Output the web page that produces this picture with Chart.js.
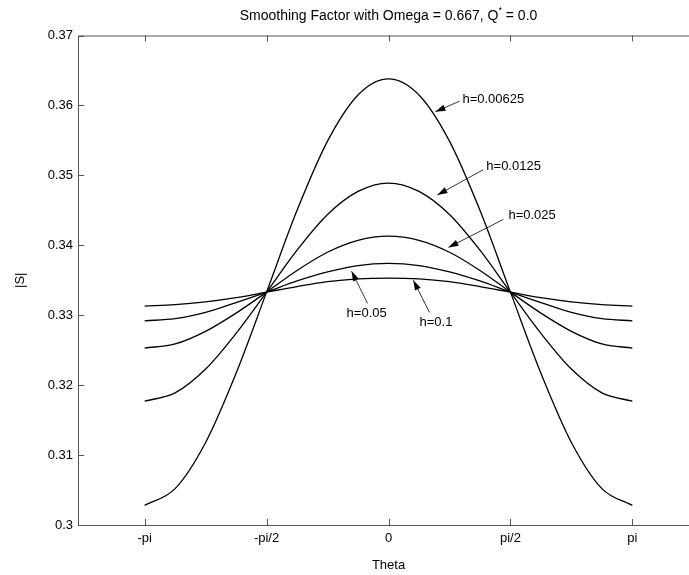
<!DOCTYPE html>
<html>
<head>
<meta charset="utf-8">
<script src="https://cdn.jsdelivr.net/npm/chart.js@4.4.0/dist/chart.umd.min.js"></script>
<style>
    html, body { margin: 0; padding: 0; background: #fff; overflow: hidden; }
    #wrap { position: absolute; left: 0; top: 0; width: 710px; height: 575px; }
</style>
</head>
<body>
<div id="wrap"><canvas id="smoothChart" width="710" height="575"></canvas></div>
<script>
// theta samples (radians) and |S| for each h
const theta = [-3.1416, -2.7489, -2.3562, -1.9635, -1.5708, -1.1781, -0.7854, -0.3927, 0,
    0.3927, 0.7854, 1.1781, 1.5708, 1.9635, 2.3562, 2.7489, 3.1416];
const sH00625 = [0.3028, 0.3052, 0.3118, 0.3217, 0.3333, 0.3450, 0.3549, 0.3615, 0.3638,
    0.3615, 0.3549, 0.3450, 0.3333, 0.3217, 0.3118, 0.3052, 0.3028];
const sH0125 = [0.3177, 0.3189, 0.3223, 0.3274, 0.3333, 0.3393, 0.3444, 0.3477, 0.3489,
    0.3477, 0.3444, 0.3393, 0.3333, 0.3274, 0.3223, 0.3189, 0.3177];
const sH025 = [0.3253, 0.3259, 0.3277, 0.3303, 0.3333, 0.3364, 0.3390, 0.3407, 0.3413,
    0.3407, 0.3390, 0.3364, 0.3333, 0.3303, 0.3277, 0.3259, 0.3253];
const sH05 = [0.3292, 0.3295, 0.3304, 0.3318, 0.3333, 0.3349, 0.3362, 0.3371, 0.3374,
    0.3371, 0.3362, 0.3349, 0.3333, 0.3318, 0.3304, 0.3295, 0.3292];
const sH1 = [0.3313, 0.3315, 0.3319, 0.3325, 0.3333, 0.3341, 0.3348, 0.3352, 0.3353,
    0.3352, 0.3348, 0.3341, 0.3333, 0.3325, 0.3319, 0.3315, 0.3313];

const xTickValues = [-3.1416, -1.5708, 0, 1.5708, 3.1416];
const xTickLabels = ['-pi', '-pi/2', '0', 'pi/2', 'pi'];
const yTickValues = [0.30, 0.31, 0.32, 0.33, 0.34, 0.35, 0.36, 0.37];
const yTickLabels = ['0.3', '0.31', '0.32', '0.33', '0.34', '0.35', '0.36', '0.37'];

// annotations (data units): label, text anchor, arrow tail, arrow head
const annotLabels = ['h=0.00625', 'h=0.0125', 'h=0.025', 'h=0.05', 'h=0.1'];
const annotText = [[0.952, 0.3608], [1.26, 0.3513], [1.545, 0.3442], [-0.54, 0.3303], [0.40, 0.3289]];
const annotTail = [[0.914, 0.3606], [1.22, 0.3508], [1.48, 0.3437], [-0.27, 0.3317], [0.528, 0.3304]];
const annotHead = [[0.605, 0.3591], [0.63, 0.3472], [0.772, 0.3397], [-0.476, 0.3363], [0.32, 0.3350]];

const FONT = 'Arial, "Liberation Sans", Helvetica, sans-serif';
const seriesList = [sH00625, sH0125, sH025, sH05, sH1];

const decorPlugin = {
    id: 'matlabDecor',
    afterDatasetsDraw(chart) {
        const ctx = chart.ctx;
        const area = chart.chartArea;
        const xs = chart.scales.x, ys = chart.scales.y;
        ctx.save();

        // box and inward ticks
        ctx.strokeStyle = '#555';
        ctx.lineWidth = 1;
        ctx.strokeRect(area.left + 0.5, area.top + 0.5, area.right - area.left, area.bottom - area.top);
        ctx.beginPath();
        xTickValues.forEach(v => {
            const px = Math.round(xs.getPixelForValue(v)) + 0.5;
            ctx.moveTo(px, area.bottom); ctx.lineTo(px, area.bottom - 6);
            ctx.moveTo(px, area.top); ctx.lineTo(px, area.top + 6);
        });
        yTickValues.forEach(v => {
            const py = Math.round(ys.getPixelForValue(v)) + 0.5;
            ctx.moveTo(area.left, py); ctx.lineTo(area.left + 6, py);
            ctx.moveTo(area.right, py); ctx.lineTo(area.right - 6, py);
        });
        ctx.stroke();

        // annotations with arrows
        ctx.fillStyle = '#000';
        ctx.strokeStyle = '#000';
        ctx.font = '13px ' + FONT;
        ctx.textBaseline = 'middle';
        ctx.textAlign = 'left';
        annotLabels.forEach((lab, i) => {
            const tx = xs.getPixelForValue(annotText[i][0]);
            const ty = ys.getPixelForValue(annotText[i][1]);
            ctx.fillText(lab, tx, ty);
            const ax = xs.getPixelForValue(annotTail[i][0]);
            const ay = ys.getPixelForValue(annotTail[i][1]);
            const hx = xs.getPixelForValue(annotHead[i][0]);
            const hy = ys.getPixelForValue(annotHead[i][1]);
            ctx.lineWidth = 0.8;
            ctx.beginPath();
            ctx.moveTo(ax, ay); ctx.lineTo(hx, hy);
            ctx.stroke();
            const ang = Math.atan2(hy - ay, hx - ax);
            const len = 10, wid = 3.2;
            ctx.beginPath();
            ctx.moveTo(hx, hy);
            ctx.lineTo(hx - len * Math.cos(ang) + wid * Math.sin(ang), hy - len * Math.sin(ang) - wid * Math.cos(ang));
            ctx.lineTo(hx - len * Math.cos(ang) - wid * Math.sin(ang), hy - len * Math.sin(ang) + wid * Math.cos(ang));
            ctx.closePath();
            ctx.fill();
        });

        // title with superscript, axis titles
        const cx = (area.left + area.right) / 2;
        const partA = 'Smoothing Factor with Omega = 0.667, Q';
        const partSup = '*';
        const partB = ' = 0.0';
        ctx.font = '14px ' + FONT;
        const wA = ctx.measureText(partA).width;
        const wB = ctx.measureText(partB).width;
        ctx.font = '9px ' + FONT;
        const wS = ctx.measureText(partSup).width;
        let x0 = cx - (wA + wS + wB) / 2;
        ctx.font = '14px ' + FONT;
        ctx.fillText(partA, x0, 16);
        ctx.font = '9px ' + FONT;
        ctx.fillText(partSup, x0 + wA, 11);
        ctx.font = '14px ' + FONT;
        ctx.fillText(partB, x0 + wA + wS, 16);

        ctx.font = '13px ' + FONT;
        ctx.textAlign = 'center';
        ctx.fillText('Theta', cx, 565);
        ctx.translate(20, (area.top + area.bottom) / 2);
        ctx.rotate(-Math.PI / 2);
        ctx.fillText('|S|', 0, 0);
        ctx.restore();
    }
};

new Chart(document.getElementById('smoothChart'), {
    type: 'line',
    data: {
        datasets: seriesList.map(s => ({
            data: theta.map((t, i) => ({ x: t, y: s[i] })),
            borderColor: '#000',
            borderWidth: 1.3,
            pointRadius: 0,
            fill: false,
            cubicInterpolationMode: 'monotone'
        }))
    },
    options: {
        responsive: false,
        animation: false,
        layout: { padding: { top: 35.5, right: 11, left: 0, bottom: 0 } },
        plugins: { legend: { display: false }, title: { display: false }, tooltip: { enabled: false } },
        scales: {
            x: {
                type: 'linear', min: -4, max: 4,
                afterFit: s => { s.height = 50; },
                afterBuildTicks: s => { s.ticks = xTickValues.map(v => ({ value: v })); },
                grid: { display: false, drawTicks: false },
                border: { display: false },
                ticks: {
                    padding: 6, color: '#000', font: { family: FONT, size: 13 },
                    maxRotation: 0, autoSkip: false,
                    callback: v => xTickLabels[xTickValues.indexOf(v)]
                }
            },
            y: {
                type: 'linear', min: 0.30, max: 0.37,
                afterFit: s => { s.width = 78; },
                afterBuildTicks: s => { s.ticks = yTickValues.map(v => ({ value: v })); },
                grid: { display: false, drawTicks: false },
                border: { display: false },
                ticks: {
                    padding: 5, color: '#000', font: { family: FONT, size: 13 },
                    autoSkip: false,
                    callback: v => yTickLabels[yTickValues.indexOf(v)]
                }
            }
        }
    },
    plugins: [decorPlugin]
});
</script>
</body>
</html>
